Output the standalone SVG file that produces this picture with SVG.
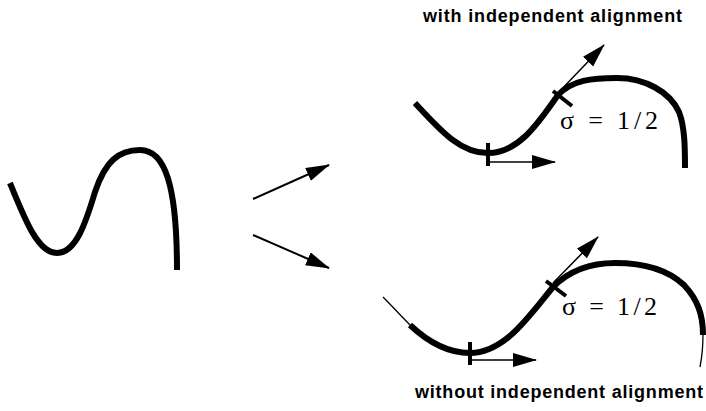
<svg xmlns="http://www.w3.org/2000/svg" width="706" height="411" viewBox="0 0 706 411">
<style>
.curve{fill:none;stroke:#000;stroke-width:6;stroke-linecap:butt;stroke-linejoin:round}
.thin{fill:none;stroke:#000;stroke-width:1.3}
.tick{stroke:#000;stroke-width:4;fill:none}
.arr{stroke:#000;stroke-width:2;fill:none;marker-end:url(#ah)}
.tan{stroke:#000;stroke-width:1.5;fill:none;marker-end:url(#ah)}
.lbl{font-family:"Liberation Sans",Arial,sans-serif;font-weight:bold;font-size:18px;fill:#000}
.sig{font-family:"Liberation Serif","Times New Roman",serif;font-size:26px;fill:#000}
</style>
<defs>
<marker id="ah" markerUnits="userSpaceOnUse" markerWidth="24" markerHeight="16" refX="23" refY="7" orient="auto">
<path d="M0,0 L24,7 L0,14 z" fill="#000"/>
</marker>
</defs>
<g id="original-curve">
<path class="curve" d="M10,183 C25,220 38,253 57,253 C76,253 86,222 95,192 C105,162 118,150 140,150 C165,150 177,185 177,270"/>
</g>
<g id="connectors">
<line class="arr" x1="253" y1="199" x2="329" y2="165"/>
<line class="arr" x1="253" y1="235" x2="329" y2="268"/>
</g>
<g id="with-alignment">
<text class="lbl" x="423" y="22" textLength="259" lengthAdjust="spacing">with independent alignment</text>
<path class="curve" d="M415,103 C440,130 460,153 488,153 C520,153 540,120 558,95 C572,80 592,78 617,78 C645,78 670,92 679,112 C685,127 685,150 685,168"/>
<line class="tick" x1="488" y1="143" x2="488" y2="166"/>
<line class="tan" x1="490" y1="162" x2="555" y2="162"/>
<line class="tick" x1="553" y1="91" x2="572" y2="106"/>
<line class="tan" x1="558" y1="93" x2="604" y2="45"/>
<text class="sig" x="560" y="129" textLength="98" lengthAdjust="spacing">σ = 1/2</text>
</g>
<g id="without-alignment">
<path class="thin" d="M383,297 C393,307 402,317 411,326"/>
<path class="curve" d="M410,325 C428,342 448,353 470,353 C505,353 530,315 553,287 C570,270 590,263 615,263 C645,263 668,270 684,285 C698,300 703,315 703,335"/>
<path class="thin" d="M703,334 C703,346 702,357 700,367"/>
<line class="tick" x1="470" y1="342" x2="470" y2="365"/>
<line class="tan" x1="472" y1="360" x2="536" y2="360"/>
<line class="tick" x1="546" y1="281" x2="566" y2="296"/>
<line class="tan" x1="553" y1="283" x2="598" y2="237"/>
<text class="sig" x="562" y="315" textLength="95" lengthAdjust="spacing">σ = 1/2</text>
<text class="lbl" x="415" y="398" textLength="288" lengthAdjust="spacing">without independent alignment</text>
</g>
</svg>
